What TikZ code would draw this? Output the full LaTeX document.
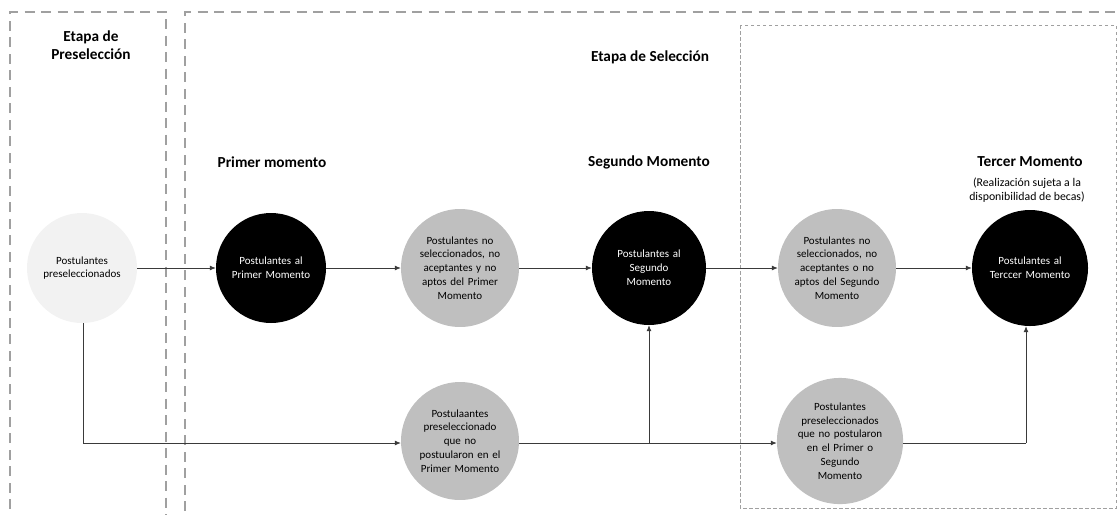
\documentclass[tikz,border=0pt]{standalone}
\usepackage{fontspec}
\setmainfont{Carlito}
\usetikzlibrary{arrows.meta}
\definecolor{lightfill}{HTML}{F2F2F2}
\definecolor{midfill}{HTML}{BFBFBF}
\definecolor{boxline}{HTML}{A0A0A0}
\definecolor{conn}{HTML}{3A3A3A}
\tikzset{
  circ/.style={circle, minimum size=#1, inner sep=0pt, align=center, text width=100pt,
    font=\fontsize{11}{13.8}\selectfont},
  circ/.default=110pt,
  darkc/.style={circ, fill=black, text=white},
  grayc/.style={circ, fill=midfill, text=black},
  lightc/.style={circ, fill=lightfill, text=black},
  title/.style={font=\bfseries\fontsize{15.3}{18}\selectfont, align=center, text=black},
  note/.style={font=\fontsize{11.8}{13.5}\selectfont, align=center, text=black},
  longdash/.style={draw=boxline, line width=1.1pt, dash pattern=on 10pt off 6.5pt},
  shortdash/.style={draw=boxline, line width=0.9pt, dash pattern=on 3.5pt off 2.5pt},
  link/.style={draw=conn, line width=0.8pt},
  arrowlink/.style={link, -{Latex[length=6pt,width=5pt]}}
}
\begin{document}
\begin{tikzpicture}[x=1pt,y=-1pt]
\useasboundingbox (0,0) rectangle (1118,515);
% stage frames
\draw[longdash] (10,509) -- (10,12) -- (166,12) -- (166,515);
\draw[longdash] (185,511) -- (185,12) -- (1118,12);
\draw[shortdash] (740,25) rectangle (1116,508);
% titles
\node[title] (tpre) at (91,45) {Etapa de\\Preselección};
\node[title] (tsel) at (650,57) {Etapa de Selección};
\node[title] (t1) at (272,162) {Primer momento};
\node[title] (t2) at (649,162) {Segundo Momento};
\node[title] (t3) at (1030,162) {Tercer Momento};
\node[note] (t3n) at (1027,190) {(Realización sujeta a la\\disponibilidad de becas)};
% circles
\node[lightc] (pre) at (82,268) {Postulantes\\preseleccionados};
\node[darkc] (p1) at (271,268) {Postulantes al\\Primer Momento};
\node[grayc] (g1) at (460,268) {Postulantes no\\seleccionados, no\\aceptantes y no\\aptos del Primer\\Momento};
\node[darkc,circ=114pt] (p2) at (649,268) {Postulantes al\\Segundo\\Momento};
\node[grayc] (g2) at (837,268) {Postulantes no\\seleccionados, no\\aceptantes o no\\aptos del Segundo\\Momento};
\node[darkc,circ=116pt] (p3) at (1030,268) {Postulantes al\\Terccer Momento};
\node[grayc,circ=114pt] (b1) at (460,441) {Postulaantes\\preseleccionado\\que no\\postuularon en el\\Primer Momento};
\node[grayc,circ=116pt] (b2) at (840,441) {Postulantes\\preseleccionados\\que no postularon\\en el Primer o\\Segundo\\Momento};
\coordinate (corner) at (83,443);
\coordinate (split) at (649,443);
\coordinate (rise) at (1026,443);
% connectors
\draw[arrowlink] (pre.east) -- (p1.west);
\draw[arrowlink] (p1.east) -- (g1.west);
\draw[arrowlink] (g1.east) -- (p2.west);
\draw[arrowlink] (p2.east) -- (g2.west);
\draw[arrowlink] (g2.east) -- (p3.west);
\draw[arrowlink] (pre.south -| corner) -- (corner) -- (corner -| b1.west);
\draw[link] (b1.east |- split) -- (split);
\draw[arrowlink] (split) -- (p2.south);
\draw[arrowlink] (split) -- (split -| b2.west);
\draw[link] (b2.east |- rise) -- (rise);
\draw[arrowlink] (rise) -- (rise |- p3.south);
\end{tikzpicture}
\end{document}
